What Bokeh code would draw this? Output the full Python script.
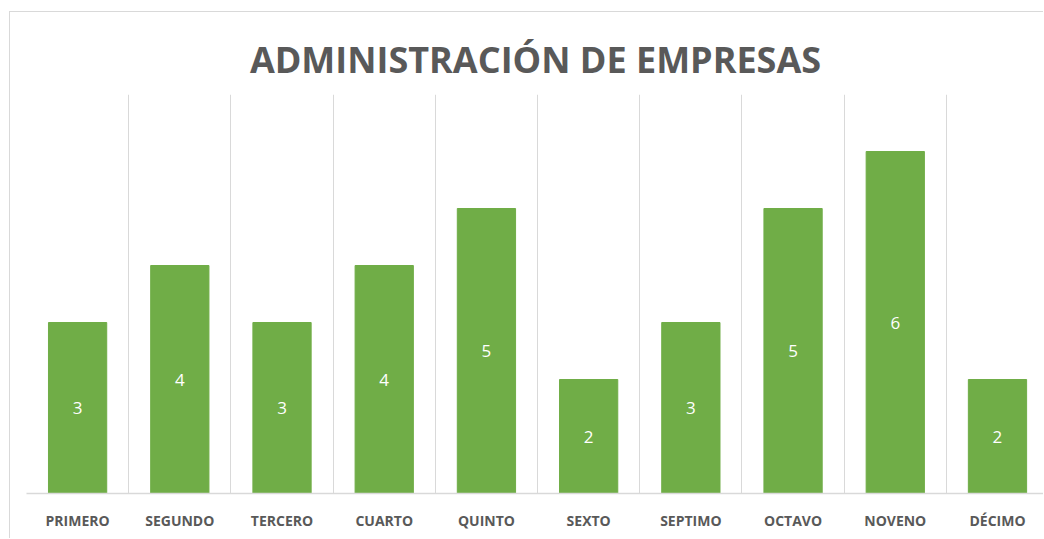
from bokeh.plotting import figure
from bokeh.models import FixedTicker, Range1d
from bokeh.core.properties import value
from bokeh.embed import file_html
from bokeh.resources import INLINE

title_text = "ADMINISTRACIÓN DE EMPRESAS"
categories = ["PRIMERO", "SEGUNDO", "TERCERO", "CUARTO", "QUINTO",
              "SEXTO", "SEPTIMO", "OCTAVO", "NOVENO", "DÉCIMO"]
values = [3, 4, 3, 4, 5, 2, 3, 5, 6, 2]

idx = list(range(len(categories)))

p = figure(width=1034, height=527, output_backend="svg", toolbar_location=None,
           x_range=Range1d(-0.5, 9.46), y_range=Range1d(0, 7),
           min_border_left=16, min_border_right=0, min_border_top=82,
           min_border_bottom=46)
p.margin = (11, 0, 0, 9)

p.title.text = title_text
p.title.align = "center"
p.title.text_font = "Open Sans"
p.title.text_font_style = "bold"
p.title.text_font_size = "36px"
p.title.text_color = "#595959"
p.title.standoff = 22
p.title.offset = -4

p.vbar(x=idx, top=values, width=0.57, color="#70AD47", line_color="#70AD47")
p.text(x=idx, y=[v / 2 for v in values], text=[str(v) for v in values],
       text_color="white", text_font=value("Open Sans"), text_font_size="17px",
       text_align="center", text_baseline="middle")

p.yaxis.visible = False
p.ygrid.visible = False
p.outline_line_color = None

p.xaxis.ticker = FixedTicker(ticks=idx)
p.xaxis.major_label_overrides = {i: c for i, c in zip(idx, categories)}
p.xaxis.major_tick_line_color = None
p.xaxis.minor_tick_line_color = None
p.xaxis.axis_line_color = "#d9d9d9"
p.xaxis.axis_line_width = 1.5
p.xaxis.major_label_text_font = "Open Sans"
p.xaxis.major_label_text_font_style = "bold"
p.xaxis.major_label_text_font_size = "14px"
p.xaxis.major_label_text_color = "#595959"
p.xaxis.major_label_standoff = 11

p.xgrid.ticker = FixedTicker(ticks=[i - 0.5 for i in idx] + [len(idx) - 0.5])
p.xgrid.grid_line_color = "#d9d9d9"
p.xgrid.grid_line_width = 1

p.styles = {"border-left": "1px solid #d9d9d9", "border-top": "1px solid #d9d9d9"}

open("out.html", "w").write(file_html(p, INLINE))
